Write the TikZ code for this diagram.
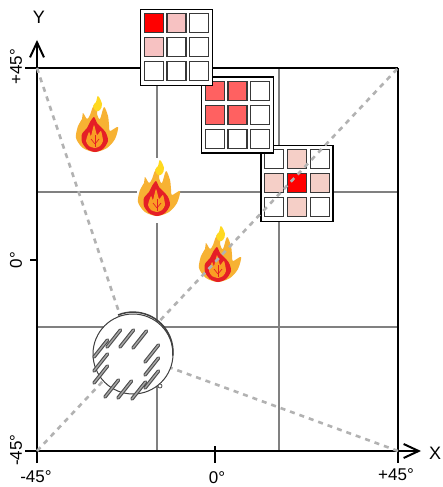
\documentclass[tikz,border=0pt]{standalone}
\usepackage{fontspec}
\setmainfont{Liberation Sans}
\usetikzlibrary{arrows.meta}
\usetikzlibrary{positioning}
\definecolor{mgrid}{rgb}{0.5, 0.5, 0.5}
\definecolor{mdash}{rgb}{0.7, 0.7, 0.7}
\definecolor{mcell}{rgb}{0.22, 0.22, 0.22}
\definecolor{mfull}{rgb}{1, 0, 0}
\definecolor{mhalf}{rgb}{1, 0.38, 0.38}
\definecolor{mlow}{rgb}{0.97, 0.76, 0.76}
\definecolor{mfaint}{rgb}{0.96, 0.81, 0.78}
\definecolor{mflameout}{rgb}{0.97, 0.70, 0.20}
\definecolor{mflametip}{rgb}{1, 0.85, 0.12}
\definecolor{mflamered}{rgb}{0.90, 0.12, 0.15}
\definecolor{mflamecore}{rgb}{0.98, 0.62, 0.14}
\tikzset{
  axisline/.style={line width=2pt, black},
  gridline/.style={line width=2pt, mgrid},
  dashline/.style={line width=2.6pt, mdash, dash pattern=on 5pt off 5pt},
  maskbox/.style={draw=black, line width=1.6pt, fill=white},
  cellbox/.style={draw=mcell, line width=1.3pt},
  barmark/.style={draw=black!70, double=black!35, double distance=1.4pt, line width=1.1pt, line cap=round},
  ticklabel/.style={font=\fontsize{17}{17}\selectfont, inner sep=0pt},
  axislabel/.style={font=\fontsize{18}{18}\selectfont, inner sep=0pt}
}
% one 3x3 mask: left, top, then the nine cell colours
\newcommand{\maskgrid}[3]{
  \begin{scope}[shift={(#1, #2)}]
    \draw [maskbox] (0, 0) rectangle (72, 76);
    \foreach \cellcol [count=\n from 0] in {#3} {
      \pgfmathsetmacro{\cx}{3.7 + 22.8*mod(\n, 3)}
      \pgfmathsetmacro{\cy}{4.3 + 24*int(\n/3)}
      \draw [cellbox, fill=\cellcol] (\cx, \cy) rectangle ++(19, 19);
    }
  \end{scope}
}
% one flame, the point given is the bottom of it
\newcommand{\flamemark}[2]{
  \begin{scope}[shift={(#1, #2)}]
    \fill [white] (-20, -58) rectangle (22, 7);
    \fill [mflameout] plot [smooth cycle, tension=0.5] coordinates {
      (0, 0) (-12, -4) (-19, -14) (-17, -26) (-13, -33) (-12, -39) (-8, -33)
      (-5, -37) (-2, -45) (3, -46) (2, -38) (5, -33) (9, -45) (13, -36)
      (14, -27) (15, -21) (23, -25) (20, -13) (12, -4)};
    \fill [mflametip] plot [smooth cycle, tension=0.6] coordinates {
      (3, -56) (7, -48) (5, -42) (1, -41) (-2, -46) (1, -50)};
    \fill [mflamered] plot [smooth cycle, tension=0.45] coordinates {
      (0, 0) (-8, -3) (-13, -10) (-13, -18) (-8, -24) (-5, -30) (-1, -35)
      (2, -29) (6, -25) (11, -19) (13, -11) (8, -3)};
    \fill [mflamecore] plot [smooth cycle, tension=0.35] coordinates {
      (0, -4) (-6, -6) (-9, -11) (-6, -20) (-4, -16) (-1, -27) (2, -17)
      (6, -21) (8, -11) (5, -6)};
    \draw [mflamered, line width=1pt] (0, -5) -- (0, -17);
    \draw [mflamered, line width=0.7pt] (0, -8) -- (-4, -13);
    \draw [mflamered, line width=0.7pt] (0, -8) -- (4, -13);
  \end{scope}
}
\begin{document}
\begin{tikzpicture}[x=1pt, y=-1pt]
  \useasboundingbox (0, 0) rectangle (442, 487);
  \fill [white] (0, 0) rectangle (442, 487);

  \coordinate (upleft) at (37, 68);
  \coordinate (upright) at (398, 68);
  \coordinate (lowleft) at (37, 451);
  \coordinate (lowright) at (398, 451);
  \coordinate (sensor) at (133, 354);

  \draw [gridline] (157, 68) -- (157, 451);
  \draw [gridline] (279, 68) -- (279, 451);
  \draw [gridline] (37, 192) -- (398, 192);
  \draw [gridline] (37, 327) -- (398, 327);

  \draw [axisline] (25, 68) -- (upright);
  \draw [axisline] (upright) -- (398, 463);
  \draw [axisline] (215, 446) -- (215, 463);
  \draw [axisline] (30, 260) -- (37, 260);
  \draw [axisline, -{Straight Barb[length=15pt, width=14pt]}] (25, 451) -- (421, 451);
  \draw [axisline, -{Straight Barb[length=15pt, width=14pt]}] (37, 463) -- (37, 40);

  \flamemark{95}{152}
  \flamemark{157}{216}
  \flamemark{218}{282}

  \maskgrid{261}{145.5}{white, mfaint, white, mfaint, mfull, mfaint, white, mfaint, white}
  \maskgrid{201.5}{77}{mhalf, mhalf, white, mhalf, mhalf, white, white, white, white}
  \maskgrid{140.5}{9.5}{mfull, mlow, white, mlow, white, white, white, white, white}

  \draw [dashline] (upleft) -- (sensor);
  \draw [dashline] (lowright) -- (sensor);
  \draw [dashline] (lowleft) -- (upright);

  \draw [line width=1pt, black!75, fill=white] (sensor) circle [radius=40];
  \draw [line width=1.5pt, black!75] (118, 315) arc [start angle=-112, end angle=5, radius=40];
  \draw [line width=0.8pt, black!70, fill=white] (160, 386) circle [radius=2];

  % top, right, bottom and left rows of the bars
  \foreach \xa/\ya in {107/347, 120/347, 133/348, 145/362, 145/375, 145/388, 105/397, 118/398, 132/399, 94/357, 94/371, 94/383} {
    \draw [barmark] (\xa, \ya) -- ++(13.5, -17);
  }

  \node [axislabel] (ylabel) at (39, 17) {Y};
  \node [axislabel] (xlabel) at (435, 453) {X};
  \node [ticklabel, rotate=90] (lefttop) at (16, 67) {+45°};
  \node [ticklabel, rotate=90] (leftmid) at (16, 260) {0°};
  \node [ticklabel, rotate=90] (leftlow) at (16, 450) {-45°};
  \node [ticklabel] (lowfirst) at (36, 477) {-45°};
  \node [ticklabel] (lowmid) at (217, 478) {0°};
  \node [ticklabel] (lowlast) at (396, 475) {+45°};
\end{tikzpicture}
\end{document}
